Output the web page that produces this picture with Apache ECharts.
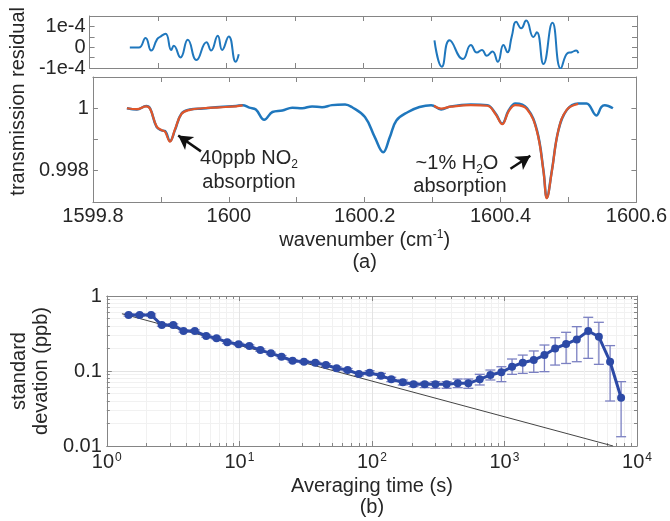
<!DOCTYPE html>
<html>
<head>
<meta charset="utf-8">
<script src="https://cdn.jsdelivr.net/npm/echarts@6/dist/echarts.min.js"></script>
<style>
html,body{margin:0;padding:0;background:#fff;}
#chart{width:670px;height:521px;}
</style>
</head>
<body>
<div id="chart"></div>
<script>
// ---------- data: panel (a) residual ----------
const residualLeft = [
  [1599.8588,-0.02e-4],[1599.872,-0.02e-4],[1599.8818,0.44e-4],[1599.890,-0.16e-4],
  [1599.8988,0.39e-4],[1599.9027,0.49e-4],[1599.911,0.65e-4],[1599.9193,-0.13e-4],
  [1599.923,0.07e-4],[1599.9328,-0.49e-4],[1599.9435,0.36e-4],[1599.9562,-0.62e-4],
  [1599.9708,0.24e-4],[1599.9776,-0.16e-4],[1599.9873,0.55e-4],[1599.9937,-0.13e-4],
  [1600.0034,0.52e-4],[1600.0136,-0.70e-4],[1600.018,-0.34e-4]
];
const residualRight = [
  [1600.304,0.33e-4],[1600.3148,-0.94e-4],[1600.326,0.33e-4],[1600.3455,-0.57e-4],
  [1600.3572,0.11e-4],[1600.366,-0.26e-4],[1600.3733,-0.13e-4],[1600.3806,-0.41e-4],
  [1600.3888,-0.21e-4],[1600.3966,-0.70e-4],[1600.4048,0.11e-4],[1600.4107,-0.24e-4],
  [1600.417,0.52e-4],[1600.4234,1.22e-4],[1600.4307,0.91e-4],[1600.438,1.28e-4],
  [1600.4487,0.49e-4],[1600.4536,0.72e-4],[1600.4633,-0.81e-4],[1600.4764,1.17e-4],
  [1600.4886,-1.02e-4],[1600.4983,-0.29e-4],[1600.5046,-0.24e-4],[1600.511,-0.16e-4],
  [1600.5143,-0.29e-4]
];
// ---------- data: panel (a) transmission ----------
const transmissionMeasured = [
  [1599.850,1.0000],[1599.8647,0.99996],[1599.8784,1.00007],[1599.8842,0.99999],
  [1599.8937,0.9994],[1599.9012,0.99929],[1599.9061,0.99927],[1599.9134,0.99895],
  [1599.9207,0.9993],[1599.9304,0.99983],[1599.9426,0.99996],[1599.962,0.99999],
  [1599.9864,1.00004],[1600.0107,1.00007],[1600.0204,1.0001],[1600.0302,1.00002],
  [1600.0398,0.99996],[1600.0521,0.99963],[1600.0642,0.99988],[1600.0788,0.99993],
  [1600.0934,1.00002],[1600.108,1.0],[1600.1226,1.00006],[1600.1372,1.00003],
  [1600.1518,1.0001],[1600.1712,1.00012],[1600.181,1.00004],[1600.2004,0.99972],
  [1600.215,0.99907],[1600.2273,0.99859],[1600.2369,0.99907],[1600.2467,0.99961],
  [1600.2638,0.99988],[1600.2807,1.00004],[1600.2978,1.0001],[1600.3124,0.99996],
  [1600.327,1.00006],[1600.3562,1.00012],[1600.3806,1.0001],[1600.3927,0.99983],
  [1600.4025,0.99951],[1600.4121,0.99994],[1600.4219,1.00015],[1600.439,1.0],
  [1600.4536,0.99929],[1600.4632,0.998],[1600.4681,0.99714],[1600.4755,0.998],
  [1600.4851,0.99929],[1600.4974,0.99994],[1600.5143,1.00015],[1600.5266,1.00015],
  [1600.541,0.99977],[1600.5484,1.00004],[1600.5533,1.0001],[1600.5654,1.0]
];
const fitNO2 = [
  [1599.850,1.0000],[1599.8647,0.99997],[1599.8784,1.00006],[1599.8842,0.99998],
  [1599.8937,0.99942],[1599.9012,0.9993],[1599.9061,0.99925],[1599.9134,0.99893],
  [1599.9207,0.99932],[1599.9304,0.99982],[1599.9426,0.99995],[1599.962,1.0],
  [1599.9864,1.00003],[1600.0107,1.00006],[1600.0204,1.00009]
];
const fitH2O = [
  [1600.302,1.00008],[1600.3124,0.99999],[1600.327,1.00005],[1600.3562,1.0001],
  [1600.3806,1.00008],[1600.3927,0.99981],[1600.4025,0.99949],[1600.4121,0.99991],
  [1600.4219,1.0001],[1600.439,0.99997],[1600.4536,0.99926],[1600.4632,0.99798],
  [1600.4681,0.99712],[1600.4755,0.99798],[1600.4851,0.99929],[1600.4974,0.99995],
  [1600.5143,1.00014]
];
// ---------- data: panel (b) Allan deviation ----------
const avgTime = [1.46,1.77,2.16,2.6,3.17,3.79,4.61,5.62,6.73,8.1,9.87,11.9,14.4,17.3,20.8,25.2,
  30.7,37.4,45,54.2,65.6,79.8,96.1,117,140,171,206,250,301,366,444,534,651,783,948,1141,
  1374,1664,2003,2412,2918,3513,4285,5156,6266,7587];
const stdDev = [0.558,0.558,0.558,0.41,0.41,0.341,0.341,0.293,0.273,0.242,0.227,0.215,0.19,
  0.172,0.155,0.137,0.133,0.129,0.12,0.109,0.103,0.091,0.095,0.0866,0.0775,0.0706,0.0664,
  0.0664,0.0664,0.0664,0.0685,0.0685,0.0775,0.0885,0.096,0.114,0.129,0.14,0.163,0.2,0.229,
  0.264,0.341,0.286,0.133,0.044];
const errLow = [0.54,0.54,0.54,0.395,0.395,0.33,0.33,0.283,0.263,0.233,0.219,0.207,0.183,
  0.166,0.149,0.132,0.128,0.124,0.115,0.104,0.098,0.086,0.089,0.0798,0.0721,0.0651,0.0618,
  0.06,0.0588,0.0588,0.06,0.0588,0.0651,0.0759,0.0721,0.0903,0.093,0.096,0.098,0.12,0.126,
  0.133,0.1475,0.1227,0.0398,0.0133];
const errHigh = [0.577,0.577,0.577,0.425,0.425,0.353,0.353,0.303,0.283,0.251,0.235,0.223,
  0.197,0.178,0.161,0.142,0.138,0.134,0.125,0.114,0.108,0.096,0.101,0.093,0.0824,0.0759,
  0.0706,0.0706,0.0721,0.0721,0.0782,0.0782,0.0903,0.103,0.114,0.1445,0.163,0.185,0.222,
  0.278,0.328,0.39,0.52,0.446,0.218,0.0721];
const shotNoiseRef = [[1.3,0.58],[6600,0.01]];

// ---------- tick labels ----------
const residualTickLabels = {'-2':'-1e-4','0':'0','2':'1e-4'};
const transmissionTickLabels = {'998':'0.998','1000':'1'};

// ---------- styling ----------
const FONT = 'Liberation Sans, Arial, sans-serif';
const AXIS_COLOR = '#858585';
const TEXT_COLOR = '#262626';
const BLUE = '#1f77bd';
const ORANGE = '#e0562a';
const DOT_BLUE = '#2d4aa6';
const ERR_BLUE = '#7b80c2';

function frame(extra){
  return Object.assign({
    axisLine:{show:true,onZero:false,lineStyle:{color:AXIS_COLOR,width:1}},
    axisTick:{show:true,inside:true,length:5,lineStyle:{color:AXIS_COLOR}},
    splitLine:{show:false},
    axisLabel:{show:false}
  }, extra);
}
const labelStyle = {show:true,color:TEXT_COLOR,fontSize:20,fontFamily:FONT};
const logMinor = {show:true,splitNumber:9,length:3,lineStyle:{color:AXIS_COLOR}};
const logMinorGrid = {show:true,lineStyle:{color:'#f1f1f1',width:1}};

const chart = echarts.init(document.getElementById('chart'), null, {renderer:'canvas'});

const supRich = {
  s:{fontSize:12,fontFamily:FONT,color:TEXT_COLOR,verticalAlign:'top',lineHeight:14,padding:[0,0,0,1]},
};

const option = {
  backgroundColor:'#fff',
  animation:false,
  textStyle:{fontFamily:FONT},
  grid:[
    {left:89,top:16,width:548,height:52},
    {left:89,top:77,width:548,height:125},
    {left:91,top:296,width:546,height:150}
  ],
  xAxis:[
    frame({gridIndex:0,type:'value',min:1599.8,max:1600.6,interval:0.1,position:'bottom'}),
    frame({gridIndex:0,type:'value',min:1599.8,max:1600.6,interval:0.1,position:'top'}),
    frame({gridIndex:1,type:'value',min:1599.8,max:1600.6,interval:0.1,position:'bottom',
      axisLabel:Object.assign({},labelStyle,{margin:4,
        formatter:v=>{const k=Math.round(v*10); return k%2===0? String(k/10):'';}}),
      name:'wavenumber (cm{s|-1})\n(a)',nameLocation:'middle',nameGap:27,
      nameTextStyle:{color:TEXT_COLOR,fontSize:20,fontFamily:FONT,lineHeight:22,
        rich:{s:{fontSize:12,fontFamily:FONT,color:TEXT_COLOR,verticalAlign:'top',lineHeight:12}}}}),
    frame({gridIndex:1,type:'value',min:1599.8,max:1600.6,interval:0.1,position:'top'}),
    frame({gridIndex:2,type:'log',logBase:10,min:1,max:10000,position:'bottom',
      splitLine:{show:true,lineStyle:{color:'#e3e3e3',width:1}},
      minorTick:logMinor,minorSplitLine:logMinorGrid,
      axisLabel:Object.assign({},labelStyle,{margin:6,
        formatter:v=>'10{s|'+Math.round(Math.log10(v))+'}', rich:supRich}),
      name:'Averaging time (s)\n(b)',nameLocation:'middle',nameGap:30,
      nameTextStyle:{color:TEXT_COLOR,fontSize:20,fontFamily:FONT,lineHeight:21}}),
    frame({gridIndex:2,type:'log',logBase:10,min:1,max:10000,position:'top',minorTick:logMinor})
  ],
  yAxis:[
    frame({gridIndex:0,type:'value',min:-1e-4,max:1.5e-4,interval:0.5e-4,position:'left',
      axisLabel:Object.assign({},labelStyle,{margin:4,
        formatter:v=>{const k=String(Math.round(v/0.5e-4)); return residualTickLabels[k]||'';}}),
      name:'residual',nameLocation:'middle',nameGap:59,
      nameTextStyle:{color:TEXT_COLOR,fontSize:20,fontFamily:FONT}}),
    frame({gridIndex:0,type:'value',min:-1e-4,max:1.5e-4,interval:0.5e-4,position:'right'}),
    frame({gridIndex:1,type:'value',min:0.997,max:1.001,interval:0.001,position:'left',
      axisLabel:Object.assign({},labelStyle,{margin:4,
        formatter:v=>{const k=String(Math.round(v*1000)); return transmissionTickLabels[k]||'';}}),
      name:'transmission',nameLocation:'middle',nameGap:59,
      nameTextStyle:{color:TEXT_COLOR,fontSize:20,fontFamily:FONT}}),
    frame({gridIndex:1,type:'value',min:0.997,max:1.001,interval:0.001,position:'right'}),
    frame({gridIndex:2,type:'log',logBase:10,min:0.01,max:1,position:'left',
      splitLine:{show:true,lineStyle:{color:'#e3e3e3',width:1}},
      minorTick:logMinor,minorSplitLine:logMinorGrid,
      axisLabel:Object.assign({},labelStyle,{margin:5}),
      name:'standard\ndevation (ppb)',nameLocation:'middle',nameGap:31,
      nameTextStyle:{color:TEXT_COLOR,fontSize:20,fontFamily:FONT,lineHeight:22}}),
    frame({gridIndex:2,type:'log',logBase:10,min:0.01,max:1,position:'right',minorTick:logMinor})
  ],
  graphic:[
    {type:'text',style:{x:249,y:158,
      text:'40ppb NO{b|2}',fill:TEXT_COLOR,font:'20px '+FONT,align:'center',verticalAlign:'middle',
      rich:{b:{fontSize:12,fontFamily:FONT,fill:TEXT_COLOR,verticalAlign:'bottom',lineHeight:26}}}},
    {type:'text',style:{x:249,y:182,text:'absorption',fill:TEXT_COLOR,font:'20px '+FONT,align:'center',verticalAlign:'middle'}},
    {type:'text',style:{x:457,y:163,text:'~1% H{b|2}O',fill:TEXT_COLOR,font:'20px '+FONT,align:'center',verticalAlign:'middle',
      rich:{b:{fontSize:12,fontFamily:FONT,fill:TEXT_COLOR,verticalAlign:'bottom',lineHeight:26}}}},
    {type:'text',style:{x:460,y:186,text:'absorption',fill:TEXT_COLOR,font:'20px '+FONT,align:'center',verticalAlign:'middle'}}
  ],
  series:[
    {type:'line',name:'residual NO2',xAxisIndex:0,yAxisIndex:0,data:residualLeft,smooth:0.5,
      symbol:'none',lineStyle:{color:BLUE,width:2},silent:true},
    {type:'line',name:'residual H2O',xAxisIndex:0,yAxisIndex:0,data:residualRight,smooth:0.5,
      symbol:'none',lineStyle:{color:BLUE,width:2},silent:true},
    {type:'line',name:'measured',xAxisIndex:2,yAxisIndex:2,data:transmissionMeasured,smooth:0.4,
      symbol:'none',lineStyle:{color:BLUE,width:2.5},silent:true,
      markLine:{silent:true,animation:false,label:{show:false},
        lineStyle:{color:'#111',width:2.5,type:'solid'},symbolSize:[12,14],
        data:[
          [{coord:[1599.9590,0.99862],symbol:'none'},{coord:[1599.9255,0.99913],symbol:'arrow'}],
          [{coord:[1600.4146,0.998065],symbol:'none'},{coord:[1600.4438,0.99848],symbol:'arrow'}]
        ]}},
    {type:'line',name:'fit NO2',xAxisIndex:2,yAxisIndex:2,data:fitNO2,smooth:0.4,
      symbol:'none',lineStyle:{color:ORANGE,width:2.2},silent:true},
    {type:'line',name:'fit H2O',xAxisIndex:2,yAxisIndex:2,data:fitH2O,smooth:0.4,
      symbol:'none',lineStyle:{color:ORANGE,width:2.2},silent:true},
    {type:'line',name:'reference',xAxisIndex:4,yAxisIndex:4,data:shotNoiseRef,
      symbol:'none',lineStyle:{color:'#444',width:1},silent:true},
    {type:'custom',name:'error',xAxisIndex:4,yAxisIndex:4,
      data:avgTime.map((t,i)=>[t,errLow[i],errHigh[i]]),
      encode:{x:0,y:[1,2]},
      renderItem:function(params,api){
        const x=api.value(0), lo=api.value(1), hi=api.value(2);
        const a=api.coord([x,lo]), b=api.coord([x,hi]);
        const w=5, st={stroke:ERR_BLUE,lineWidth:1.3};
        return {type:'group',children:[
          {type:'line',shape:{x1:a[0],y1:a[1],x2:b[0],y2:b[1]},style:st},
          {type:'line',shape:{x1:a[0]-w,y1:a[1],x2:a[0]+w,y2:a[1]},style:st},
          {type:'line',shape:{x1:b[0]-w,y1:b[1],x2:b[0]+w,y2:b[1]},style:st}
        ]};
      },silent:true},
    {type:'line',name:'std',xAxisIndex:4,yAxisIndex:4,
      data:avgTime.map((t,i)=>[t,stdDev[i]]),
      symbol:'circle',symbolSize:8,itemStyle:{color:DOT_BLUE},
      lineStyle:{color:DOT_BLUE,width:3},silent:true}
  ]
};
chart.setOption(option);
</script>
</body>
</html>
